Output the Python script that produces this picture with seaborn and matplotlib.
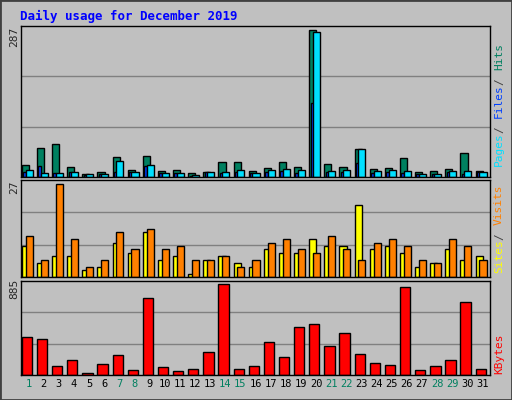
import matplotlib
matplotlib.use("Agg")
import matplotlib.pyplot as plt
import seaborn as sns
import numpy as np

sns.set_style("white")
plt.rcParams['font.family'] = ['DejaVu Sans Mono']

days = list(range(1, 32))
weekend = [1, 7, 8, 14, 15, 21, 22, 28, 29]
hits = [23,57,65,20,5,10,40,14,42,12,14,8,10,30,30,12,18,30,20,287,26,20,55,16,18,38,10,12,16,47,12]
files = [10,22,8,10,4,6,10,10,22,8,8,2,10,8,10,8,10,12,8,144,10,10,28,8,10,8,6,6,10,6,10]
pages = [14,8,8,10,5,6,32,10,24,8,8,3,10,10,14,8,14,16,14,284,12,14,55,12,14,12,6,6,12,12,10]
sites = [9,4,6,6,2,3,10,7,13,5,6,1,5,6,4,3,8,7,7,11,9,9,21,8,9,7,3,4,8,5,6]
visits = [12,5,27,11,3,5,13,8,14,8,9,5,5,6,3,5,10,11,8,7,12,8,5,10,11,9,5,4,11,9,5]
kbytes = [370,351,90,142,23,109,196,52,747,80,42,61,225,885,61,90,322,177,467,496,283,409,206,119,100,853,52,90,148,708,61]

BG = '#C0C0C0'
fig = plt.figure(figsize=(5.12, 4.0), dpi=100, facecolor=BG)
x = np.array(days)
kw = dict(edgecolor='black', linewidth=1, align='edge')

def setup(ax, top):
    ax.set_facecolor(BG)
    ax.set_xlim(0.5, 31.5)
    ax.set_ylim(0, top)
    ax.set_xticks([]); ax.set_yticks([])
    for y in (top / 3, 2 * top / 3):
        ax.axhline(y, color='#808080', lw=1, zorder=0)
    for s in ax.spines.values():
        s.set_color('black'); s.set_linewidth(1)

ax1 = fig.add_axes([21/512, 1-177/400, 469/512, 151/400])
setup(ax1, 295)
ax1.bar(x - 0.45, hits, width=0.47, color='#008060', **kw)
ax1.bar(x - 0.36, files, width=0.2, color='#0040FF', **kw)
ax1.bar(x - 0.2, pages, width=0.47, color='#00E0FF', **kw)

ax2 = fig.add_axes([21/512, 1-277/400, 469/512, 97/400])
setup(ax2, 28.2)
ax2.bar(x - 0.45, sites, width=0.47, color='#FFFF00', **kw)
ax2.bar(x - 0.2, visits, width=0.47, color='#FF8000', **kw)

ax3 = fig.add_axes([21/512, 1-375/400, 469/512, 94/400])
setup(ax3, 915)
ax3.bar(x - 0.45, kbytes, width=0.68, color='#FF0000', **kw)
ax3.set_xticks(x)
ax3.set_xticklabels([str(d) for d in days], fontsize=7.5)
ax3.tick_params(length=0, pad=3)
for lab, d in zip(ax3.get_xticklabels(), days):
    lab.set_color('#008060' if d in weekend else 'black')

fig.text(20/512, 1-16/400, 'Daily usage for December 2019', color='#0000FF',
         fontsize=9, fontweight='bold', va='center')
for txt, yc in (('287', 37), ('27', 187), ('885', 289)):
    fig.text(14/512, 1-yc/400, txt, rotation=90, fontsize=8, ha='center', va='center')

CH = 6.0
def side(parts, ybottom):
    y = ybottom
    for i, (t, c) in enumerate(parts):
        if i:
            fig.text(499/512, 1-(y - 3)/400, '/', rotation=90, color='#404040',
                     fontsize=8, ha='center', va='bottom')
            y -= 3 * CH
        fig.text(499/512, 1-y/400, t, rotation=90, color=c, fontsize=8,
                 ha='center', va='bottom')
        y -= len(t) * CH
side([('Pages', '#00E0FF'), ('Files', '#0040FF'), ('Hits', '#008060')], 166)
side([('Sites', '#FFFF00'), ('Visits', '#FF8000')], 273)
side([('KBytes', '#FF0000')], 374)

fig.add_artist(plt.Rectangle((0, 0), 1, 1, transform=fig.transFigure, fill=False,
                             edgecolor='#404040', lw=2))
fig.savefig('out.png', dpi=100, facecolor=BG)
